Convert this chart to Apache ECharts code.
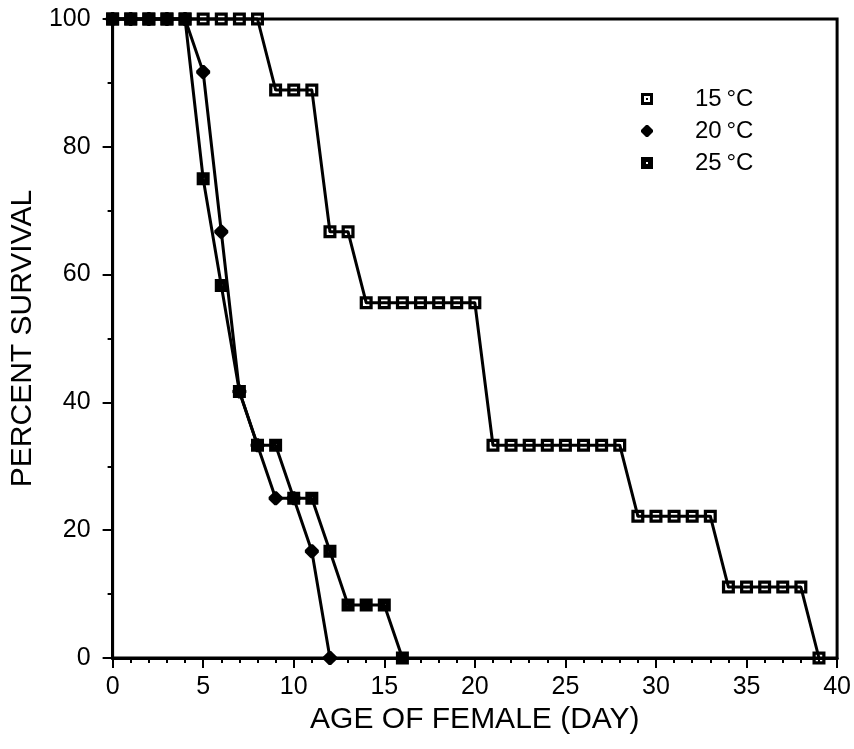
<!DOCTYPE html>
<html>
<head>
<meta charset="utf-8">
<script src="https://cdn.jsdelivr.net/npm/echarts@6/dist/echarts.min.js"></script>
<style>
  html, body { margin: 0; padding: 0; background: #fff; }
  #chart { width: 854px; height: 749px; }
</style>
</head>
<body>
<div id="chart"></div>
<script>
// ---- data ----
const seriesNames = ['15\u2009°C', '20\u2009°C', '25\u2009°C'];
const days15 = [0,1,2,3,4,5,6,7,8,9,10,11,12,13,14,15,16,17,18,19,20,21,22,23,24,25,26,27,28,29,30,31,32,33,34,35,36,37,38,39];
const surv15 = [100,100,100,100,100,100,100,100,100,88.9,88.9,88.9,66.7,66.7,55.6,55.6,55.6,55.6,55.6,55.6,55.6,33.3,33.3,33.3,33.3,33.3,33.3,33.3,33.3,22.2,22.2,22.2,22.2,22.2,11.1,11.1,11.1,11.1,11.1,0];
const days20 = [0,1,2,3,4,5,6,7,8,9,10,11,12];
const surv20 = [100,100,100,100,100,91.7,66.7,41.7,33.3,25,25,16.7,0];
const days25 = [0,1,2,3,4,5,6,7,8,9,10,11,12,13,14,15,16];
const surv25 = [100,100,100,100,100,75,58.3,41.7,33.3,33.3,25,25,16.7,8.3,8.3,8.3,0];
const xTicks = [0,5,10,15,20,25,30,35,40];
const yTicks = [0,20,40,60,80,100];

// ---- symbols ----
const openSquare = 'path://M0 0 H12 V12 H0 Z M3 3 V9 H9 V3 Z M5 5 H7 V7 H5 Z';
const solidSquare = 'path://M0 0 H12 V12 H0 Z M5 5 V7 H7 V5 Z';
const roundDiamond = 'path://M5 0 H7 L12 5 V7 L7 12 H5 L0 7 V5 Z';
const FONT = '"Liberation Sans", Arial, Helvetica, sans-serif';

function pairs(xs, ys) { return xs.map((x, i) => [x, ys[i]]); }

const chart = echarts.init(document.getElementById('chart'), null, { renderer: 'canvas' });
chart.setOption({
  animation: false,
  backgroundColor: '#fff',
  textStyle: { fontFamily: FONT, color: '#000' },
  grid: { left: 108, right: 14, top: 19, bottom: 91, show: true, borderColor: '#000', borderWidth: 3, containLabel: false },
  legend: {
    orient: 'vertical',
    left: 636, top: 82,
    itemWidth: 12, itemHeight: 12, itemGap: 8,
    textStyle: { fontFamily: FONT, fontSize: 24, color: '#000', padding: [0, 0, 0, 37] },
    data: [
      { name: seriesNames[0], icon: openSquare },
      { name: seriesNames[1], icon: roundDiamond },
      { name: seriesNames[2], icon: solidSquare }
    ]
  },
  xAxis: {
    type: 'value', min: 0, max: 40, interval: 5,
    name: 'AGE OF FEMALE (DAY)', nameLocation: 'middle', nameGap: 40,
    nameTextStyle: { fontFamily: FONT, fontSize: 30, color: '#000' },
    axisLine: { show: true, onZero: false, lineStyle: { color: '#000', width: 3 } },
    axisTick: { show: true, inside: false, length: 10, lineStyle: { color: '#000', width: 2 } },
    minorTick: { show: true, splitNumber: 5, length: 5, lineStyle: { color: '#000', width: 2 } },
    splitLine: { show: false },
    axisLabel: { fontFamily: FONT, fontSize: 25, color: '#000', margin: 17,
      customValues: xTicks }
  },
  yAxis: {
    type: 'value', min: 0, max: 100, interval: 20,
    name: 'PERCENT SURVIVAL', nameLocation: 'middle', nameGap: 68,
    nameTextStyle: { fontFamily: FONT, fontSize: 30, color: '#000' },
    axisLine: { show: true, onZero: false, lineStyle: { color: '#000', width: 3 } },
    axisTick: { show: true, inside: false, length: 10, lineStyle: { color: '#000', width: 2 } },
    minorTick: { show: true, splitNumber: 2, length: 5, lineStyle: { color: '#000', width: 2 } },
    splitLine: { show: false },
    axisLabel: { fontFamily: FONT, fontSize: 25, color: '#000', margin: 22 }
  },
  series: [
    {
      name: seriesNames[0], type: 'line', data: pairs(days15, surv15),
      symbol: openSquare, symbolSize: 13, clip: false,
      lineStyle: { color: '#000', width: 3 },
      itemStyle: { color: '#000', borderWidth: 0 }
    },
    {
      name: seriesNames[1], type: 'line', data: pairs(days20, surv20),
      symbol: roundDiamond, symbolSize: 14, clip: false,
      lineStyle: { color: '#000', width: 3 },
      itemStyle: { color: '#000', borderWidth: 0 }
    },
    {
      name: seriesNames[2], type: 'line', data: pairs(days25, surv25),
      symbol: solidSquare, symbolSize: 13, clip: false,
      lineStyle: { color: '#000', width: 3 },
      itemStyle: { color: '#000', borderWidth: 0 }
    }
  ]
});
</script>
</body>
</html>
